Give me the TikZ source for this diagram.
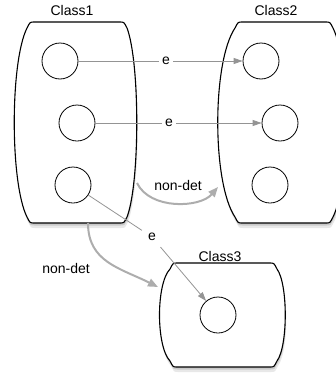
\documentclass[tikz,border=0pt]{standalone}
\usepackage{fontspec}
\setmainfont{Liberation Sans}
\usetikzlibrary{arrows.meta,shadows}
\tikzset{
  classbox/.style={line width=1.1pt, fill=white,
    drop shadow={opacity=0.18, shadow xshift=1pt, shadow yshift=-5pt},
    drop shadow={opacity=0.3, shadow xshift=0.5pt, shadow yshift=-2.5pt}},
  state/.style={circle, draw, line width=0.8pt, minimum size=36pt, inner sep=0pt},
  lbl/.style={font=\fontsize{14}{16}\selectfont, inner sep=2pt},
  elbl/.style={lbl, fill=white, inner sep=3pt},
  earrow/.style={draw=black!42, line width=0.8pt, -{Triangle[length=9pt,width=6pt]}},
  ndarrow/.style={draw=black!32, line width=2pt, -{Triangle[length=10pt,width=8pt]}}
}
% barrel shaped class: left, right, top, bottom, left bulge, right bulge
\newcommand{\barrel}[6]{%
  \draw[classbox] ({#1+4},#3) -- ({#2-4},#3)
    .. controls (#2,#3) .. ({#2+3},{#3+6})
    .. controls ({#2+#6},{#3+0.2*(#4-#3)}) and ({#2+#6},{#4-0.2*(#4-#3)}) .. ({#2+3},{#4-6})
    .. controls (#2,#4) .. ({#2-4},#4)
    -- ({#1+4},#4)
    .. controls (#1,#4) .. ({#1-3},{#4-6})
    .. controls ({#1-#5},{#4-0.2*(#4-#3)}) and ({#1-#5},{#3+0.2*(#4-#3)}) .. ({#1-3},{#3+6})
    .. controls (#1,#3) .. cycle;}

\begin{document}
\begin{tikzpicture}[x=1pt, y=-1pt]
  %%%%% START %%%%%
  \clip (0,0) rectangle (336,378);

  \barrel{30}{124}{22}{223}{20}{16}
  \barrel{238}{330}{22}{223}{26}{20}
  \barrel{173}{274}{263}{367}{17}{14}

  \node[lbl] (cls1) at (72,10) {Class1};
  \node[lbl] (cls2) at (276,10) {Class2};
  \node[lbl] (cls3) at (220,256) {Class3};

  \node[state] (a1) at (60,61) {};
  \node[state] (a2) at (77,123) {};
  \node[state] (a3) at (73,185) {};

  \node[state] (b1) at (261,61) {};
  \node[state] (b2) at (280,123) {};
  \node[state] (b3) at (270,185) {};

  \node[state] (c1) at (218,315) {};

  % event edges
  \node[elbl] (e1) at (166,61) {e};
  \node[elbl] (e2) at (169,123) {e};
  \node[lbl, inner sep=6pt] (e3) at (152,237) {e};
  \draw[earrow] (a1) -- (e1) -- (b1);
  \draw[earrow] (a2) -- (e2) -- (b2);
  \draw[earrow] (a3) -- (e3) -- (c1);

  % non-det edges between classes
  \coordinate (n1s) at (137,183);
  \coordinate (n1e) at (218,187);
  \coordinate (n2s) at (88,223);
  \coordinate (n2e) at (158,287);
  \draw[ndarrow] (n1s) .. controls (150,210) and (200,208) .. (n1e);
  \draw[ndarrow] (n2s) .. controls (88,262) and (120,268) .. (n2e);
  \node[lbl] (nd1) at (178,185) {non-det};
  \node[lbl] (nd2) at (66,268) {non-det};

  %%%%% END %%%%%
\end{tikzpicture}
\end{document}
